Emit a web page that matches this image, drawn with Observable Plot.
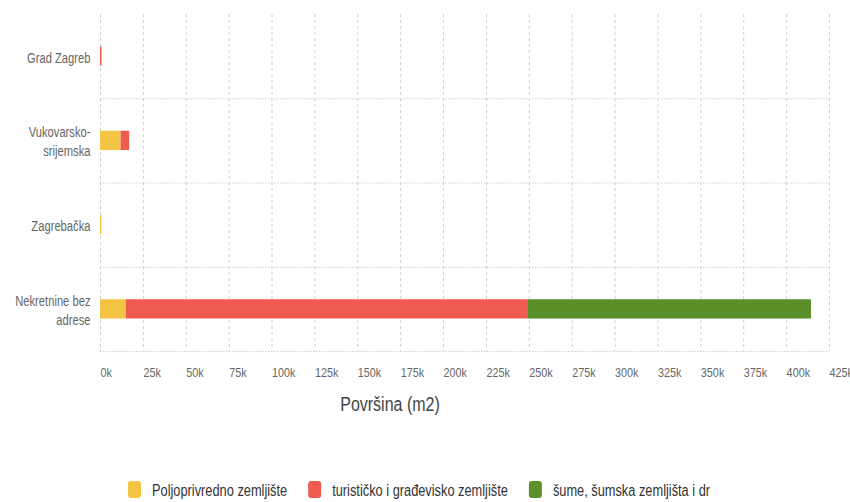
<!DOCTYPE html>
<html>
<head>
<meta charset="utf-8">
<script src="https://cdn.jsdelivr.net/npm/d3@7"></script>
<script src="https://cdn.jsdelivr.net/npm/@observablehq/plot@0.6"></script>
<style>
  body { margin: 0; background: #fff; font-family: "Liberation Sans", Arial, sans-serif; }
  #legend { display: block; }
</style>
</head>
<body>
<div id="chart"></div>
<div id="legend"></div>
<script>
const categories = ["Grad Zagreb", "Vukovarsko-srijemska", "Zagrebačka", "Nekretnine bez adrese"];
const categoryLabels = ["Grad Zagreb", "Vukovarsko-\nsrijemska", "Zagrebačka", "Nekretnine bez\nadrese"];
const seriesNames = ["Poljoprivredno zemljište", "turističko i građevisko zemljište", "šume, šumska zemljišta i dr"];
const seriesColors = ["#F4C542", "#EF5B50", "#5A8F29"];
const poljoprivredno = [0, 12000, 800, 15000];
const turisticko = [900, 5000, 0, 234500];
const sume = [0, 0, 0, 165000];
const xTicks = d3.range(0, 425001, 25000);
const axisTitle = "Površina (m2)";

const data = [];
categories.forEach((c, i) => {
  data.push({cat: c, series: seriesNames[0], value: poljoprivredno[i]});
  data.push({cat: c, series: seriesNames[1], value: turisticko[i]});
  data.push({cat: c, series: seriesNames[2], value: sume[i]});
});
const labelOf = new Map(categories.map((c, i) => [c, categoryLabels[i]]));

const font = "Liberation Sans, Arial, sans-serif";
const plot = Plot.plot({
  width: 850,
  height: 430,
  marginLeft: 100,
  marginRight: 21,
  marginTop: 14,
  marginBottom: 79,
  style: {fontFamily: font, background: "#fff"},
  x: {domain: [0, 425000], ticks: xTicks},
  y: {domain: categories, padding: 0, round: false},
  color: {domain: seriesNames, range: seriesColors},
  marks: [
    Plot.ruleX(xTicks, {stroke: "#cfcfcf", strokeDasharray: "3,3", strokeWidth: 1}),
    Plot.ruleY(categories, {y: d => d, dy: 42.1, x1: 0, x2: 425000, stroke: "#cfcfcf", strokeDasharray: "1.5,1.5", strokeWidth: 1}),
    Plot.barX(data, Plot.stackX({y: "cat", x: "value", fill: "series", order: seriesNames, insetTop: 32.5, insetBottom: 32.5})),
    Plot.axisX(xTicks, {tickSize: 0, tickPadding: 16, textAnchor: "start", dx: 0, tickFormat: d => d / 1000 + "k", fontSize: 13.5, fill: "#666", label: null}),
    Plot.axisY({tickSize: 0, tickPadding: 10, tickFormat: d => labelOf.get(d), fontSize: 14, fill: "#666", label: null, lineHeight: 1.35}),
    Plot.text([axisTitle], {text: d => d, frameAnchor: "bottom", dy: 59, dx: -75, fontSize: 20, fill: "#444", fontFamily: font})
  ]
});
document.getElementById("chart").appendChild(plot);

// condense text to mimic a narrow typeface
function condense(root, k) {
  root.querySelectorAll("text").forEach(t => {
    const spans = t.querySelectorAll("tspan");
    const targets = spans.length ? Array.from(spans) : [t];
    targets.forEach(el => {
      const w = el.getComputedTextLength();
      if (w > 0) {
        el.setAttribute("textLength", (w * k).toFixed(2));
        el.setAttribute("lengthAdjust", "spacingAndGlyphs");
      }
    });
  });
}
condense(plot, 0.8);

// legend
const lsvg = d3.select("#legend").append("svg")
  .attr("width", 850).attr("height", 72)
  .style("display", "block")
  .style("font-family", font);
let lx = 128;
seriesNames.forEach((s, i) => {
  lsvg.append("rect").attr("x", lx).attr("y", 51).attr("width", 13).attr("height", 17)
    .attr("rx", 3).attr("fill", seriesColors[i]);
  const t = lsvg.append("text").attr("x", lx + 24).attr("y", 60).attr("dy", "0.35em")
    .attr("font-size", 16).attr("fill", "#333").text(s);
  const w = t.node().getComputedTextLength() * 0.8;
  t.attr("textLength", w.toFixed(2)).attr("lengthAdjust", "spacingAndGlyphs");
  lx = lx + 24 + w + 21;
});
</script>
</body>
</html>
